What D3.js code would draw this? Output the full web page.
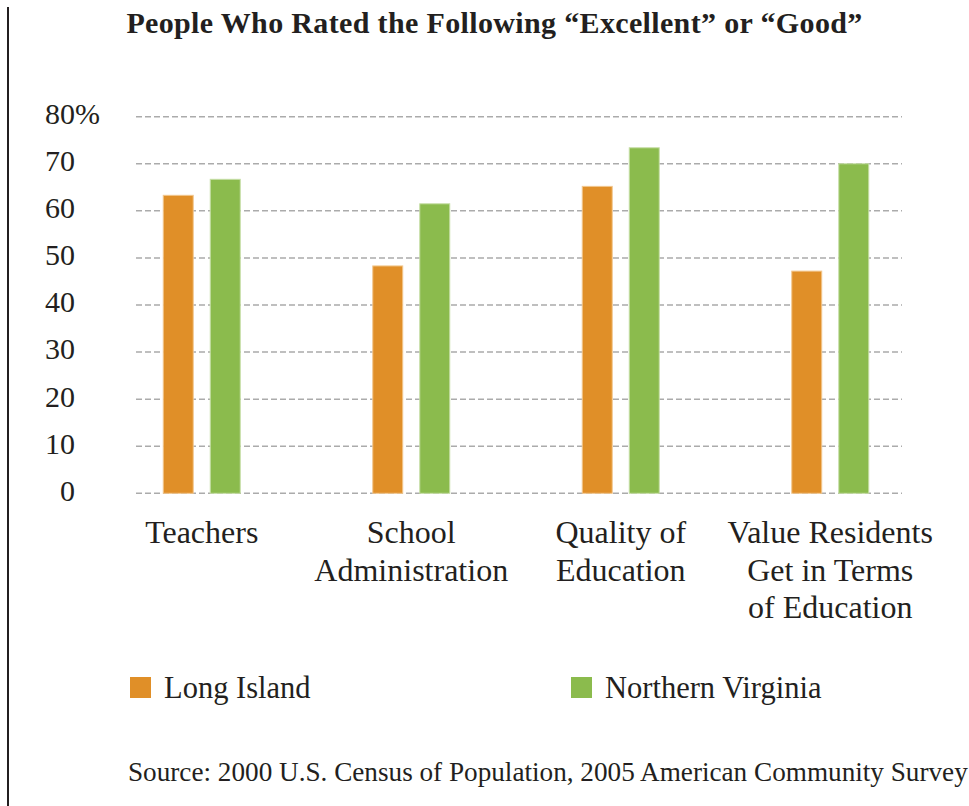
<!DOCTYPE html>
<html>

<head>
	<title>People Who Rated the Following "Excellent" or "Good"</title>
	<style>
		body {
			margin: 0;
			background: #fff;
		}

		text {
			font-family: "Liberation Serif", serif;
			fill: #231f20;
		}
	</style>
</head>

<body>

	<svg id="svg" width="969" height="806"></svg>

	<script src="https://cdn.jsdelivr.net/npm/d3@7"></script>
	<script>
		// Data
		const categories = ['Teachers', 'School\nAdministration', 'Quality of\nEducation', 'Value Residents\nGet in Terms\nof Education']
		const series = ['Long Island', 'Northern Virginia']
		const longIsland = [63.3, 48.3, 65.2, 47.2]
		const northernVirginia = [66.7, 61.5, 73.4, 70.0]
		const yTicks = [0, 10, 20, 30, 40, 50, 60, 70, 80]
		const colors = ['#e08f28', '#8bbb4d']
		const edgeColors = ['#f2c78f', '#c6dea6']

		// Table the bars are drawn from
		const values = [longIsland, northernVirginia]
		const rows = categories.map((c, i) => ({
			category: c,
			bars: series.map((s, j) => ({ series: s, value: values[j][i], k: j }))
		}))

		const svg = d3.select('#svg')

		// Scales
		const x0 = d3.scaleBand()
			.domain(categories)
			.range([97, 935])

		const x1 = d3.scaleBand()
			.domain(series)
			.range([-38.5, 38.5])
			.paddingInner(0.362)

		const y = d3.scaleLinear()
			.domain([0, 80])
			.range([493.3, 116.7])

		// Left rule
		svg.append('line')
			.attr('x1', 8).attr('x2', 8)
			.attr('y1', 7).attr('y2', 806)
			.attr('stroke', '#231f20')
			.attr('stroke-width', 2)

		// Title
		svg.append('text')
			.attr('x', 494.5)
			.attr('y', 33)
			.attr('text-anchor', 'middle')
			.attr('font-size', 30)
			.attr('font-weight', 'bold')
			.attr('letter-spacing', 0.35)
			.text('People Who Rated the Following \u201CExcellent\u201D or \u201CGood\u201D')

		// Dashed gridlines
		svg.append('g')
			.selectAll('line')
			.data(yTicks)
			.join('line')
			.attr('x1', 136)
			.attr('x2', 902)
			.attr('y1', d => y(d))
			.attr('y2', d => y(d))
			.attr('stroke', '#ababab')
			.attr('stroke-width', 1.5)
			.attr('stroke-dasharray', '6,3')

		// Y axis labels
		const yAxis = svg.append('g')
			.attr('transform', 'translate(75,0)')
			.call(d3.axisLeft(y).tickValues(yTicks).tickSize(0).tickPadding(0))

		yAxis.select('.domain').remove()
		yAxis.selectAll('text')
			.attr('font-size', 30)
			.attr('dy', '0.23em')
			.style('font-family', '"Liberation Serif", serif')
			.attr('fill', '#231f20')

		// percent sign hangs past the number on the top tick
		yAxis.selectAll('.tick')
			.filter(d => d === 80)
			.append('text')
			.attr('x', 0)
			.attr('dy', '0.23em')
			.attr('text-anchor', 'start')
			.attr('font-size', 30)
			.attr('fill', '#231f20')
			.style('font-family', '"Liberation Serif", serif')
			.text('%')

		// Bars
		svg.append('g')
			.selectAll('g')
			.data(rows)
			.join('g')
			.attr('transform', d => `translate(${x0(d.category) + x0.bandwidth() / 2},0)`)
			.selectAll('rect')
			.data(d => d.bars)
			.join('rect')
			.attr('x', d => x1(d.series))
			.attr('width', x1.bandwidth())
			.attr('y', d => y(d.value))
			.attr('height', d => y(0) - y(d.value))
			.attr('fill', d => colors[d.k])
			.attr('stroke', d => edgeColors[d.k])
			.attr('stroke-width', 1)

		// Category labels, one tspan per line
		svg.append('g')
			.selectAll('text')
			.data(categories)
			.join('text')
			.attr('text-anchor', 'middle')
			.attr('font-size', 32)
			.attr('y', 543)
			.selectAll('tspan')
			.data(d => d.split('\n').map(t => ({ t, c: d })))
			.join('tspan')
			.attr('x', d => x0(d.c) + x0.bandwidth() / 2)
			.attr('dy', (d, i) => i === 0 ? 0 : 37.5)
			.text(d => d.t)

		// Legend
		const legendX = [130, 571]
		const legend = svg.append('g')
			.selectAll('g')
			.data(series)
			.join('g')
			.attr('transform', (d, i) => `translate(${legendX[i]},677)`)

		legend.append('rect')
			.attr('width', 21)
			.attr('height', 21)
			.attr('fill', (d, i) => colors[i])

		legend.append('text')
			.attr('x', 34)
			.attr('y', 21)
			.attr('font-size', 30.5)
			.text(d => d)

		// Source note
		svg.append('text')
			.attr('x', 128)
			.attr('y', 781)
			.attr('font-size', 27.2)
			.text('Source: 2000 U.S. Census of Population, 2005 American Community Survey')
	</script>
</body>

</html>
